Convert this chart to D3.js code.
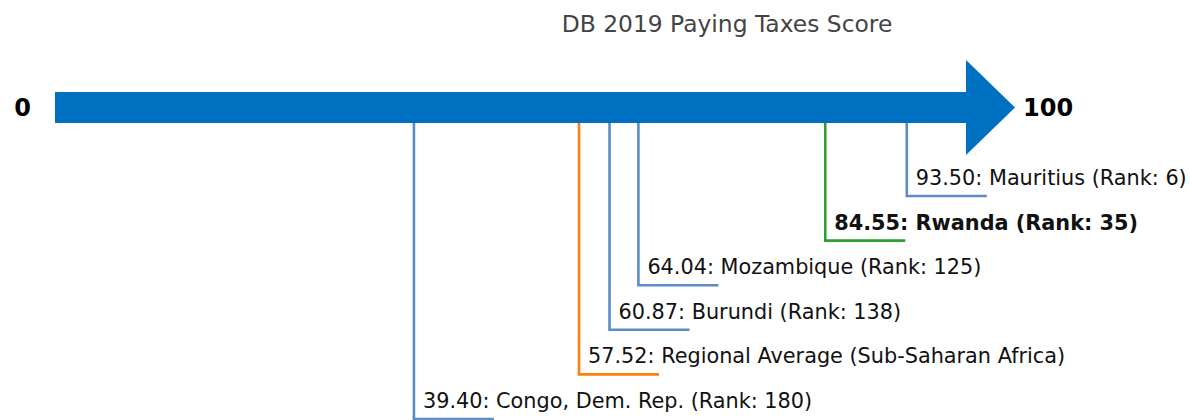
<!DOCTYPE html>
<html>
<head>
<meta charset="utf-8">
<script src="https://cdn.jsdelivr.net/npm/d3@7"></script>
<style>
  body { margin: 0; background: #fff; }
  svg { font-family: "DejaVu Sans", sans-serif; }
</style>
</head>
<body>
<div id="chart"></div>
<script>
// data
const economies = ["Mauritius", "Rwanda", "Mozambique", "Burundi", "Regional Average (Sub-Saharan Africa)", "Congo, Dem. Rep."];
const scores = [93.50, 84.55, 64.04, 60.87, 57.52, 39.40];
const ranks = [6, 35, 125, 138, null, 180];
const kinds = ["peer", "focus", "peer", "peer", "region", "peer"];
const axisTicks = [0, 100];

const colors = { peer: "#5b8bc9", focus: "#2ca02c", region: "#ff7f0e" };

const width = 1190, height = 420;

const svg = d3.select("#chart")
    .append("svg")
    .attr("width", width)
    .attr("height", height);

// scale for the score arrow
const x = d3.scaleLinear()
    .domain([0, 100])
    .range([55, 966]);

// levels below the arrow, one row per economy
const y = d3.scaleLinear()
    .domain([0, economies.length - 1])
    .range([196, 419]);

// title
svg.append("text")
    .attr("x", 727)
    .attr("y", 32)
    .attr("text-anchor", "middle")
    .attr("fill", "#444")
    .style("font-size", "23.4px")
    .text("DB 2019 Paying Taxes Score");

const shaftTop = 92, shaftBottom = 123, mid = (shaftTop + shaftBottom) / 2;

const rows = economies.map((name, i) => ({
    name: name,
    score: scores[i],
    rank: ranks[i],
    kind: kinds[i],
    level: i
}));

// leader lines
const g = svg.append("g");
rows.forEach(d => {
    const px = x(d.score), py = y(d.level);
    g.append("path")
        .attr("d", `M${px},${shaftBottom} V${py} H${px + 80}`)
        .attr("fill", "none")
        .attr("stroke", colors[d.kind])
        .attr("stroke-width", 2.6);

    const label = d.score.toFixed(2) + ": " + d.name + (d.rank != null ? ` (Rank: ${d.rank})` : "");
    g.append("text")
        .attr("x", px + 9)
        .attr("y", py - 11)
        .attr("fill", "#111")
        .style("font-size", "20.8px")
        .style("font-weight", d.kind === "focus" ? "bold" : "normal")
        .text(label);
});

// arrow
const headLen = 49;
svg.append("path")
    .attr("d", `M${x(0)},${shaftTop} H${x(100)} V60 L${x(100) + headLen},${mid} L${x(100)},155 V${shaftBottom} H${x(0)} Z`)
    .attr("fill", "#0070c0");

// end labels
svg.selectAll(".end-label")
    .data(axisTicks)
    .enter()
    .append("text")
    .attr("class", "end-label")
    .attr("x", d => d === 0 ? x(d) - 24 : x(d) + headLen + 8)
    .attr("y", mid + 8)
    .attr("text-anchor", d => d === 0 ? "end" : "start")
    .attr("fill", "#000")
    .style("font-size", "24px")
    .style("font-weight", "bold")
    .text(d => d);
</script>
</body>
</html>
